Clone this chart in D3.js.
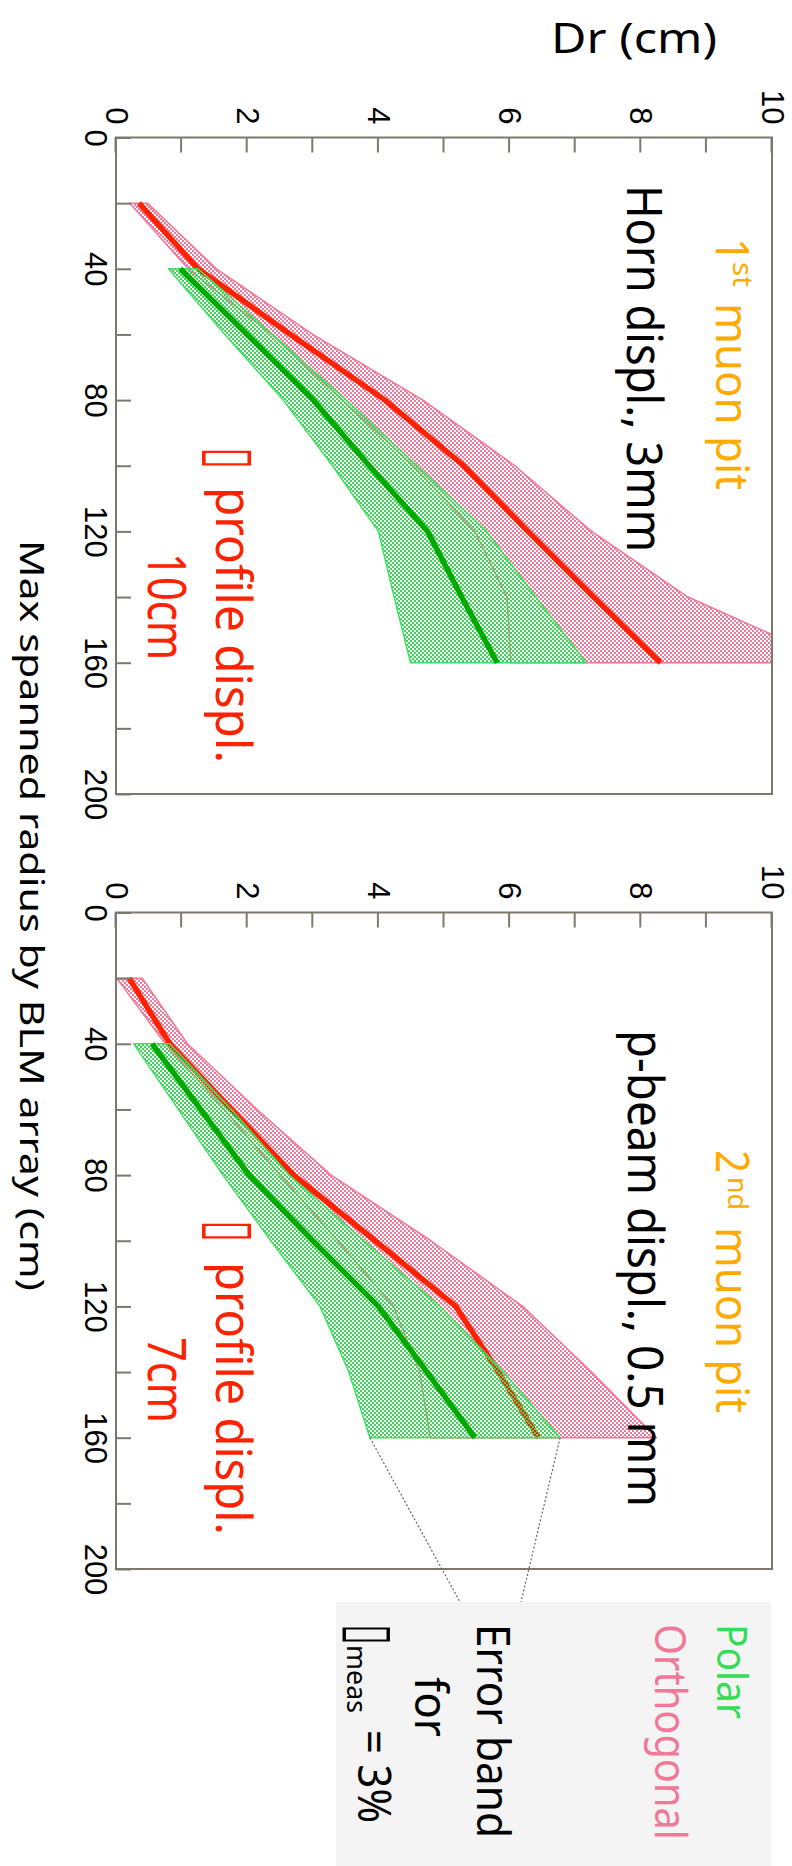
<!DOCTYPE html>
<html><head><meta charset="utf-8">
<script src="https://cdn.jsdelivr.net/npm/d3@7"></script>
<style>body{margin:0;background:#fff}svg{display:block}</style>
</head><body>
<script>
// ---------- data ----------
const radius = [20, 40, 60, 80, 100, 120, 140, 160];
const radiusPolar = [40, 60, 80, 100, 120, 140, 160];
const rTicks = [0, 40, 80, 120, 160, 200];
const drTicks = [0, 2, 4, 6, 8, 10];

// 1st muon pit (Horn displ. 3mm)
const p1Ortho = [0.35, 1.25, 2.66, 4.10, 5.30, 6.28, 7.28, 8.30];
const p1OrthoLow = [0.21, 1.10, 2.37, 3.45, 4.53, 5.47, 5.96, 6.02];
const p1OrthoHigh = [0.48, 1.53, 3.00, 4.68, 6.08, 7.25, 8.72, 10.96];
const p1Polar = [0.98, 2.00, 3.01, 3.86, 4.75, 5.27, 5.81];
const p1PolarLow = [0.80, 1.66, 2.55, 3.30, 4.00, 4.24, 4.49];
const p1PolarHigh = [1.25, 2.39, 3.51, 4.59, 5.65, 6.40, 7.17];

// 2nd muon pit (p-beam displ. 0.5 mm)
const p2Ortho = [0.20, 0.82, 1.76, 2.71, 3.95, 5.18, 5.83, 6.44];
const p2OrthoLow = [0.01, 0.75, 1.65, 2.50, 3.38, 4.23, 4.63, 4.79];
const p2OrthoHigh = [0.40, 1.09, 2.15, 3.28, 4.80, 6.20, 7.25, 8.24];
const p2Polar = [0.55, 1.29, 2.03, 3.00, 4.00, 4.74, 5.47];
const p2PolarLow = [0.27, 0.95, 1.63, 2.36, 3.11, 3.55, 3.87];
const p2PolarHigh = [0.82, 1.76, 2.64, 3.78, 4.94, 5.91, 6.77];

// ---------- drawing ----------
const W = 792, H = 1866;
const FONT = "'Noto Sans', 'DejaVu Sans', sans-serif";
const TICKFONT = "'Liberation Sans', 'DejaVu Sans', sans-serif";
const BOXFONT = "'DejaVu Sans', sans-serif";
const FRAME = "#7d786f";
const PINK = "#f07898", PINKFILL = "#f2789c", RED = "#ff2200";
const GREENEDGE = "#44dd66", GREENFILL = "#3ad854", GREEN = "#00a800";
const ORANGE = "#ffaa00";

const svg = d3.select("body").append("svg").attr("width", W).attr("height", H);
const defs = svg.append("defs");
function pattern(id, color) {
  const p = defs.append("pattern").attr("id", id).attr("patternUnits", "userSpaceOnUse")
    .attr("width", 4).attr("height", 4);
  p.append("rect").attr("x", 0).attr("y", 0).attr("width", 2).attr("height", 2).attr("fill", color);
  p.append("rect").attr("x", 2).attr("y", 2).attr("width", 2).attr("height", 2).attr("fill", color);
}
pattern("hatchPink", PINKFILL);
pattern("hatchGreen", GREENFILL);

// legend box (page coordinates)
svg.append("rect").attr("x", 336).attr("y", 1602).attr("width", 435).attr("height", 264).attr("fill", "#f4f4f4");

// whole chart drawn in original orientation, rotated 90deg clockwise
const g = svg.append("g").attr("transform", `translate(${W},0) rotate(90)`);

const yDr = d3.scaleLinear().domain([0, 10]).range([676, 20]);

function txt(parent, str, X, Y, size, color, len, extra) {
  const t = parent.append("text").attr("x", X).attr("y", Y)
    .attr("font-family", FONT).attr("font-size", size).attr("fill", color).text(str);
  if (len) t.attr("textLength", len).attr("lengthAdjust", "spacingAndGlyphs");
  if (extra) extra(t);
  return t;
}
function box(parent, X, Y, size, color, len) {
  return txt(parent, "\u25AF", X, Y, size, color, len, t => t.attr("font-family", BOXFONT));
}

function drawPlot(idx, x0, ortho, oLow, oHigh, polar, pLow, pHigh) {
  const xR = d3.scaleLinear().domain([0, 200]).range([x0, x0 + 656.5]);
  const pg = g.append("g");
  const clipId = "clip" + idx;
  defs.append("clipPath").attr("id", clipId).append("rect")
    .attr("x", x0).attr("y", 20).attr("width", 656.5).attr("height", 656);
  const plotArea = pg.append("g").attr("clip-path", `url(#${clipId})`);

  const oData = radius.map((r, i) => ({ r, v: ortho[i], lo: oLow[i], hi: oHigh[i] }));
  const pData = radiusPolar.map((r, i) => ({ r, v: polar[i], lo: pLow[i], hi: pHigh[i] }));
  const area = d3.area().x(d => xR(d.r)).y0(d => yDr(d.lo)).y1(d => yDr(d.hi));
  const line = d3.line().x(d => xR(d.r)).y(d => yDr(d.v));

  plotArea.append("path").attr("d", area(oData) + "Z").attr("fill", "url(#hatchPink)")
    .attr("stroke", PINK).attr("stroke-width", 1.5).attr("stroke-linejoin", "round");
  plotArea.append("path").attr("d", line(oData)).attr("fill", "none")
    .attr("stroke", RED).attr("stroke-width", 5.5);
  plotArea.append("path").attr("d", area(pData) + "Z").attr("fill", "url(#hatchGreen)")
    .attr("stroke", GREENEDGE).attr("stroke-width", 1.5).attr("stroke-linejoin", "round");
  plotArea.append("path").attr("d", line(pData)).attr("fill", "none")
    .attr("stroke", GREEN).attr("stroke-width", 5.5);

  // axes
  const ax = pg.append("g").attr("transform", "translate(0,676)")
    .call(d3.axisBottom(xR).tickValues(d3.range(0, 201, 20)).tickSize(-15).tickPadding(9)
      .tickFormat(d => rTicks.includes(d) ? d : ""));
  const ay = pg.append("g").attr("transform", `translate(${x0},0)`)
    .call(d3.axisLeft(yDr).tickValues(d3.range(0, 11, 1)).tickSize(-15).tickPadding(13)
      .tickFormat(d => drTicks.includes(d) ? d : ""));
  [ax, ay].forEach(a => {
    a.select(".domain").remove();
    a.selectAll("line").attr("stroke", FRAME).attr("stroke-width", 2);
    a.selectAll("text").attr("font-family", TICKFONT).attr("font-size", 31).attr("fill", "#000");
  });

  pg.append("rect").attr("x", x0).attr("y", 20).attr("width", 656.5).attr("height", 656)
    .attr("fill", "none").attr("stroke", FRAME).attr("stroke-width", 2);
  return xR;
}

const xR1 = drawPlot(1, 137.5, p1Ortho, p1OrthoLow, p1OrthoHigh, p1Polar, p1PolarLow, p1PolarHigh);
const xR2 = drawPlot(2, 912.5, p2Ortho, p2OrthoLow, p2OrthoHigh, p2Polar, p2PolarLow, p2PolarHigh);

// ---------- annotations ----------
// plot 1
txt(g, "1", 238, 76, 46, ORANGE, 24);
txt(g, "st", 262, 59, 28, ORANGE, 25);
txt(g, "muon pit", 303, 76, 46, ORANGE, 187);
txt(g, "Horn displ., 3mm", 185, 165, 50, "#000", 367);
box(g, 447, 582, 64, RED, 22);
txt(g, "profile displ.", 487, 576, 50, RED, 276);
txt(g, "10cm", 553, 644, 52, RED, 107);
// plot 2
txt(g, "2", 1150, 76, 46, ORANGE, 23);
txt(g, "nd", 1177, 64, 28, ORANGE, 33);
txt(g, "muon pit", 1227, 76, 46, ORANGE, 186);
txt(g, "p-beam displ., 0.5 mm", 1030, 164, 50, "#000", 477);
box(g, 1220, 582, 64, RED, 22);
txt(g, "profile displ.", 1262, 576, 50, RED, 273);
txt(g, "7cm", 1337, 644, 52, RED, 86);

// axis titles
txt(g, "Max spanned radius by BLM array (cm)", 540, 772, 33, "#000", 751);
txt(g, "Dr (cm)", 0, 0, 42, "#000", 166, t => t.attr("transform", "translate(53,241) rotate(-90)"));

// dotted connector lines from plot 2 error band to legend
const dotted = [
  { x1: xR2(160), y1: yDr(p2PolarLow[6]), x2: 1602, y2: W - 460 },
  { x1: xR2(160), y1: yDr(p2PolarHigh[6]), x2: 1602, y2: W - 521 }
];
g.selectAll(".conn").data(dotted).enter().append("line")
  .attr("x1", d => d.x1).attr("y1", d => d.y1).attr("x2", d => d.x2).attr("y2", d => d.y2)
  .attr("stroke", "#666").attr("stroke-width", 1.2).attr("stroke-dasharray", "2,2");

// legend texts
txt(g, "Polar", 1624, 75, 42, "#33dd55", 95);
txt(g, "Orthogonal", 1624, 137, 44, PINK, 216);
txt(g, "Error band", 1624, 315, 46, "#000", 214);
txt(g, "for", 1677, 377, 46, "#000", 60);
box(g, 1624, 442, 62, "#000", 21);
txt(g, "meas", 1645, 445, 28, "#000", 68);
txt(g, "= 3%", 1730, 434, 46, "#000", 93);
</script>
</body></html>
